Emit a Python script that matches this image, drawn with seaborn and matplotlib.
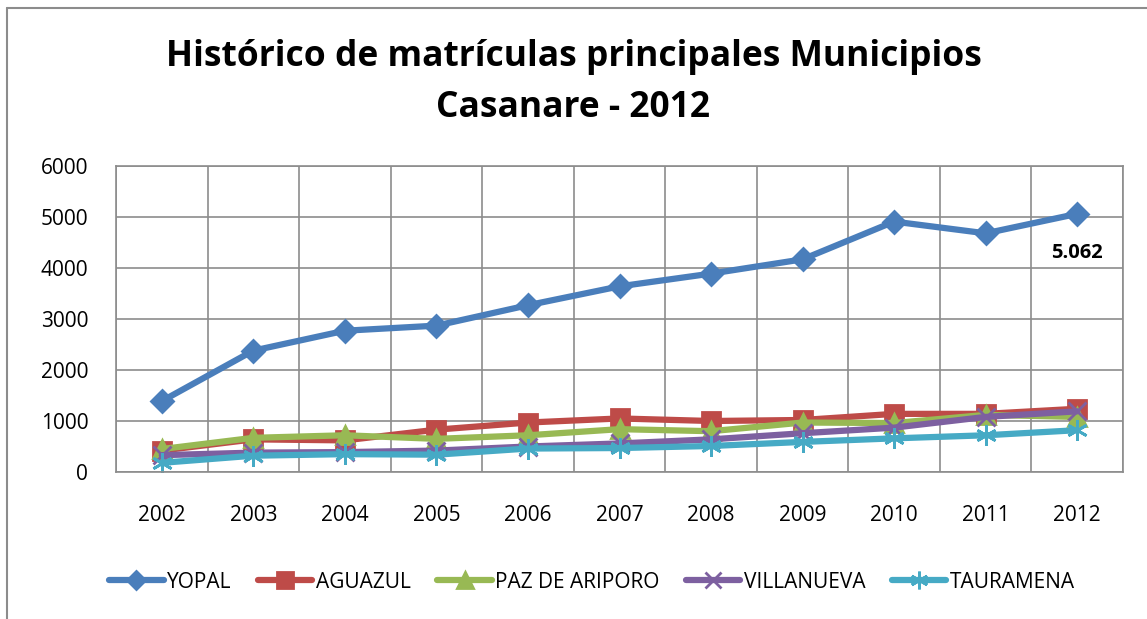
import numpy as np
import pandas as pd
import matplotlib
matplotlib.use("Agg")
import matplotlib.pyplot as plt
from matplotlib.lines import Line2D
import seaborn as sns

# Data
years = ["2002", "2003", "2004", "2005", "2006", "2007", "2008", "2009", "2010", "2011", "2012"]
yopal = [1390, 2380, 2770, 2870, 3270, 3640, 3890, 4170, 4910, 4680, 5062]
aguazul = [420, 640, 620, 830, 970, 1050, 1000, 1020, 1140, 1140, 1240]
paz_de_ariporo = [450, 670, 720, 650, 720, 840, 800, 970, 960, 1120, 1080]
villanueva = [330, 380, 390, 420, 500, 560, 640, 760, 870, 1080, 1190]
tauramena = [180, 320, 350, 340, 460, 470, 510, 590, 660, 720, 820]

series = ["YOPAL", "AGUAZUL", "PAZ DE ARIPORO", "VILLANUEVA", "TAURAMENA"]
values = [yopal, aguazul, paz_de_ariporo, villanueva, tauramena]
colors = ["#4A7EBB", "#BE4B48", "#98B954", "#7D60A0", "#46AAC5"]
markers = ["D", "s", "^", "x", (6, 2, 0)]
msizes = [11, 13, 13, 13, 15]

sns.set_theme(style="white")
plt.rcParams["font.family"] = ["Open Sans", "DejaVu Sans"]
plt.rcParams["text.color"] = "black"
plt.rcParams["xtick.color"] = "black"
plt.rcParams["ytick.color"] = "black"

fig = plt.figure(figsize=(11.47, 6.19), dpi=100)
ax = fig.add_axes([116 / 1147, 1 - 472 / 619, (1123 - 116) / 1147, (472 - 166) / 619])

x = np.arange(len(years))
for name, vals, c, m, ms in zip(series, values, colors, markers, msizes):
    df = pd.DataFrame({"x": x, "y": vals})
    sns.lineplot(data=df, x="x", y="y", ax=ax, color=c, linewidth=4.5,
                 marker=m, markersize=ms, markeredgecolor=c, markeredgewidth=2,
                 label=name)

ax.set_xlim(-0.5, len(years) - 0.5)
ax.set_ylim(0, 6000)
ax.set_yticks(np.arange(0, 6001, 1000))
ax.set_xticks(x)
ax.set_xticklabels(years)
ax.set_xticks(np.arange(-0.5, len(years), 1), minor=True)
ax.grid(which="major", axis="y", color="#8c8c8c", linewidth=1.2)
ax.grid(which="minor", axis="x", color="#8c8c8c", linewidth=1.2)
ax.set_axisbelow(True)
ax.tick_params(axis="both", which="both", length=0, labelsize=15, colors="black")
ax.tick_params(axis="x", pad=24)
ax.tick_params(axis="y", pad=20)
ax.set_xlabel("")
ax.set_ylabel("")
for s in ax.spines.values():
    s.set_color("#8c8c8c")
    s.set_linewidth(1.2)

ax.annotate("5.062", xy=(x[-1], yopal[-1]), xytext=(0, -28), textcoords="offset points",
            ha="center", va="center", fontsize=14.5, fontweight="bold", color="black")

ax.legend_.remove()
handles, labels = ax.get_legend_handles_labels()
fig.legend(handles, labels, loc="center", bbox_to_anchor=(592 / 1147, 1 - 582 / 619), ncol=5,
           frameon=False, fontsize=15, handlelength=2.6, handletextpad=0.15,
           columnspacing=1.3, markerscale=0.85, labelcolor="black")

fig.text(0.5, 1 - 57 / 619, "Histórico de matrículas principales Municipios",
         ha="center", va="center", fontsize=25.5, fontweight="bold", color="black")
fig.text(0.5, 1 - 108 / 619, "Casanare - 2012",
         ha="center", va="center", fontsize=25.5, fontweight="bold", color="black")

# outer chart border (right/bottom edges are cut off in the reference)
fig.add_artist(Line2D([7 / 1147, 7 / 1147], [0, 1 - 8 / 619], color="#8c8c8c", linewidth=1.5))
fig.add_artist(Line2D([7 / 1147, 1], [1 - 8 / 619, 1 - 8 / 619], color="#8c8c8c", linewidth=1.5))

fig.savefig("out.png", dpi=100)
